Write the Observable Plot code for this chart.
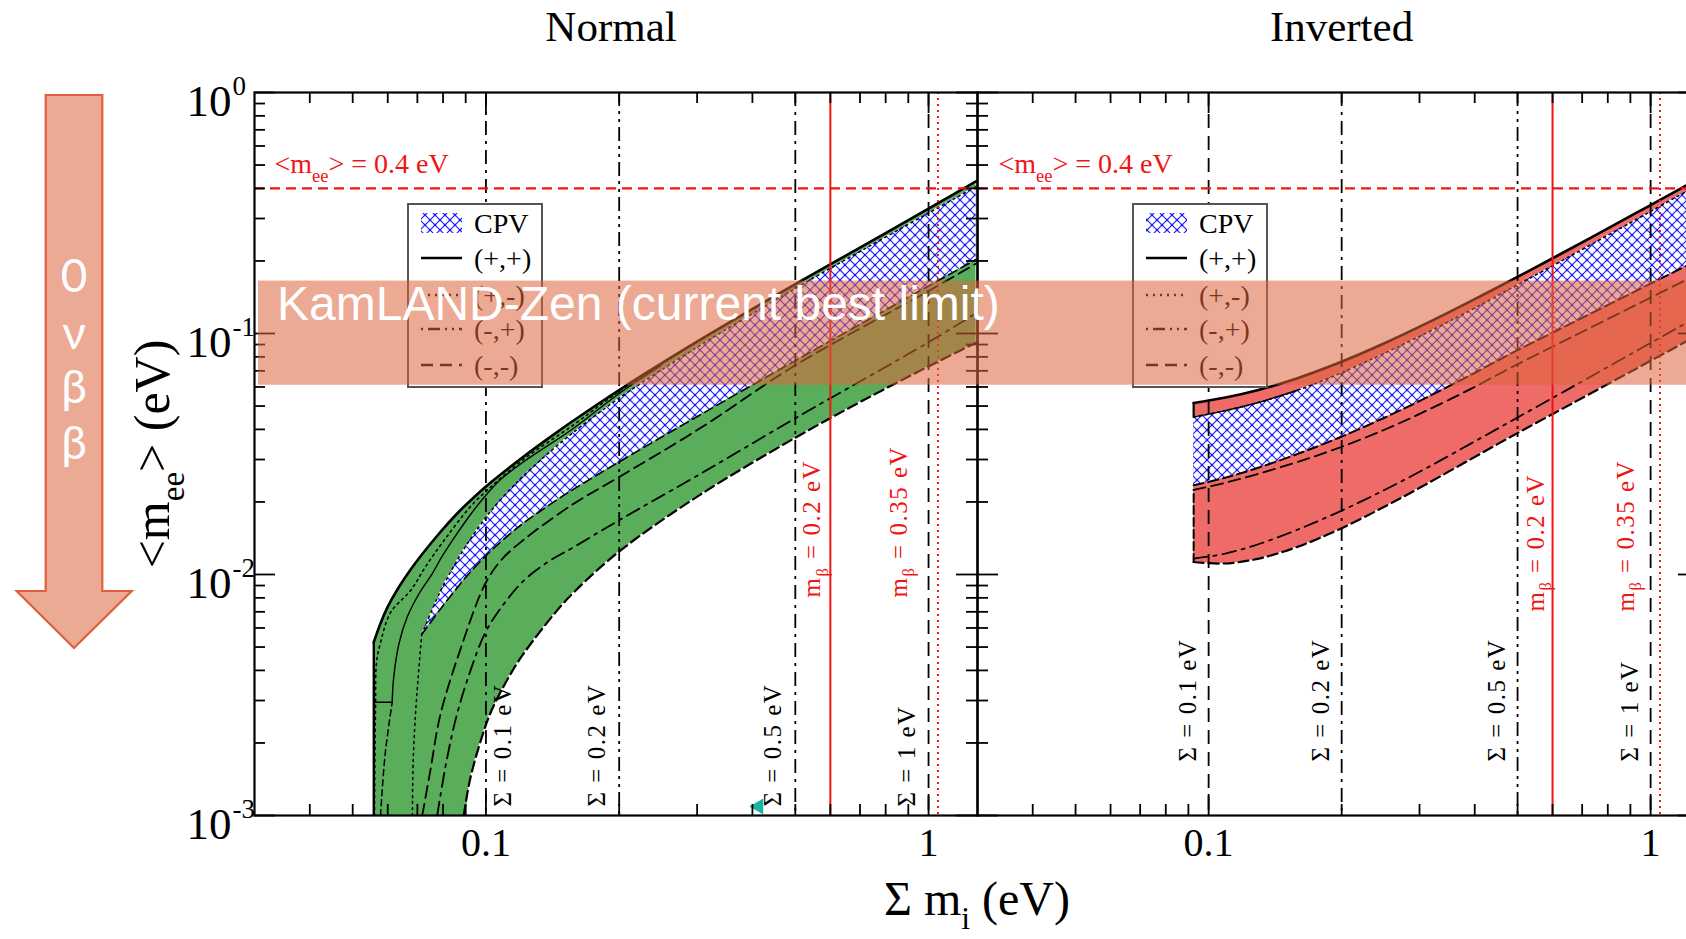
<!DOCTYPE html>
<html lang="en">
<head>
<meta charset="utf-8">
<title>Effective Majorana mass versus sum of neutrino masses</title>
<script src="https://cdn.jsdelivr.net/npm/d3@7"></script>
<script src="https://cdn.jsdelivr.net/npm/@observablehq/plot@0.6"></script>
<style>
  html, body { margin: 0; padding: 0; background: #fff; overflow: hidden; }
  #stage { position: relative; width: 1686px; height: 939px; overflow: hidden; background: #fff; }
  #stage > svg { position: absolute; top: 0; }
</style>
</head>
<body>
<svg width="0" height="0" style="position:absolute">
  <defs>
    <pattern id="cpvHatch" patternUnits="userSpaceOnUse" width="10" height="10">
      <rect width="10" height="10" fill="#fff"/>
      <path d="M0,0L10,10M10,0L0,10" stroke="#1a1aff" stroke-width="1.1" fill="none"/>
      <circle cx="5" cy="5" r="1.3" fill="#1a1aff"/>
      <circle cx="0" cy="0" r="1.3" fill="#1a1aff"/>
      <circle cx="10" cy="0" r="1.3" fill="#1a1aff"/>
      <circle cx="0" cy="10" r="1.3" fill="#1a1aff"/>
      <circle cx="10" cy="10" r="1.3" fill="#1a1aff"/>
    </pattern>
  </defs>
</svg>
<div id="stage"></div>
<script>
// ---------- fonts & colours ----------
const SERIF = "'Liberation Serif', 'Times New Roman', Times, serif";
const SANS = "'Liberation Sans', Arial, Helvetica, sans-serif";
const HUMANIST = "Lato, 'Open Sans', sans-serif";
const GREEN = "#5aad5a";
const RED_FILL = "#ef6b68";
const RED = "#f01414";

// ---------- axes ----------
const xDomain = [0.03, 1.29];   // Σ m_i (eV)
const yDomain = [0.001, 1];     // <m_ee> (eV)
const xMajor = [0.1, 1];
const xMinor = [0.04, 0.05, 0.06, 0.07, 0.08, 0.09, 0.2, 0.3, 0.4, 0.5, 0.6, 0.7, 0.8, 0.9];
const yMajor = [0.001, 0.01, 0.1, 1];
const yMinor = [0.002, 0.003, 0.004, 0.005, 0.006, 0.007, 0.008, 0.009,
                0.02, 0.03, 0.04, 0.05, 0.06, 0.07, 0.08, 0.09,
                0.2, 0.3, 0.4, 0.5, 0.6, 0.7, 0.8, 0.9];
const panels = ["Normal", "Inverted"];

// ---------- reference values ----------
const sigmaMarks = [0.1, 0.2, 0.5, 1];     // Σ m_i guide lines (eV)
const mBeta = [0.2, 0.35];                 // β-decay mass reach (eV)
const mBetaSigma = [0.6, 1.05];            // matching Σ m_i (eV)
const meeLimit = 0.4;                      // <m_ee> (eV)
const kamlandZen = [0.061, 0.165];         // current best 0νββ limit band (eV)

// ---------- normal ordering: boundaries on a shared Σ grid ----------
const sigmaNO     = [0.0558, 0.0578, 0.0599, 0.0630, 0.0676, 0.0716, 0.0789, 0.0862, 0.0891, 0.0923, 0.0997,
                     0.1040, 0.1138, 0.1215, 0.1427, 0.1575, 0.2, 0.3045, 0.5, 0.7, 1.0, 1.28];
const upperNO     = [0.00524, 0.00628, 0.0073, 0.00862, 0.01048, 0.01207, 0.01501, 0.01795, 0.01908, 0.02028, 0.02306,
                     0.02462, 0.02809, 0.03082, 0.03824, 0.04343, 0.05828, 0.09406, 0.1602, 0.2272, 0.330, 0.428];
const lowerNO     = [null, null, null, null, null, null, null, null, 0.001, 0.00144, 0.00234,
                     0.00284, 0.00388, 0.00468, 0.00687, 0.00839, 0.01246, 0.0214, 0.03694, 0.05193, 0.07303, 0.09158];
const cpvTopNO    = [null, null, null, null, null, 0.00564, 0.00851, 0.0115, 0.01272, 0.01405, 0.01715,
                     0.01889, 0.02274, 0.02565, 0.03346, 0.03883, 0.05395, 0.0891, 0.1538, 0.2189, 0.316, 0.407];
const cpvBottomNO = [null, null, null, null, null, 0.00564, 0.00718, 0.00884, 0.00952, 0.01025, 0.01191,
                     0.01282, 0.01483, 0.01633, 0.02007, 0.02254, 0.02932, 0.04591, 0.07713, 0.1091, 0.1574, 0.2028];

// inner curves of the normal ordering, [Σ, <m_ee>]
const solidInnerNO = [[0.0614, 0.00295], [0.0619, 0.00375], [0.0636, 0.00516], [0.0664, 0.00666], [0.0706, 0.00832],
                      [0.0756, 0.01007], [0.0796, 0.01188], [0.0861, 0.0148], [0.0923, 0.01774], [0.0992, 0.02097],
                      [0.1079, 0.02478], [0.1215, 0.02929], [0.1575, 0.04034], [0.2, 0.05637], [0.248, 0.07329]];
const hookNO = [[0.0558, 0.00295], [0.0614, 0.00295]];
const dottedNO = [[0.0560, 0.001], [0.0563, 0.0028], [0.0566, 0.00432], [0.0578, 0.00522], [0.0609, 0.00696],
                  [0.0676, 0.00859], [0.0731, 0.0108], [0.0810, 0.0141], [0.0923, 0.01915], [0.0997, 0.0220],
                  [0.1215, 0.0300], [0.1575, 0.0417], [0.199, 0.0572], [0.2746, 0.0834]];
const cpvTipNO = [[0.0682, 0.001], [0.0685, 0.00169], [0.0694, 0.00272], [0.0705, 0.0040], [0.0716, 0.00564]];
const dashedInnerNO = [[0.0718, 0.001], [0.0749, 0.00154], [0.0789, 0.00262], [0.0876, 0.0049], [0.0992, 0.0090],
                       [0.1079, 0.0114], [0.1215, 0.0139], [0.1575, 0.0196], [0.2, 0.0254], [0.3045, 0.0404],
                       [0.5, 0.0738], [1.0, 0.150], [1.28, 0.195]];
const dashDotNO = [[0.0776, 0.001], [0.0815, 0.00169], [0.0861, 0.00265], [0.0923, 0.0040], [0.0994, 0.00568],
                   [0.1079, 0.00723], [0.1219, 0.00946], [0.1385, 0.01132], [0.158, 0.0130], [0.2, 0.0168],
                   [0.3045, 0.0261], [0.5, 0.0445], [1.0, 0.092], [1.28, 0.1214]];
const cornerDashNO = [[0.0578, 0.001], [0.0592, 0.0018], [0.0614, 0.00295]];

// ---------- inverted ordering: boundaries on a shared Σ grid ----------
const sigmaIO     = [0.0925, 0.1085, 0.1290, 0.1588, 0.1972, 0.2492, 0.3068, 0.3910, 0.4898, 0.6136, 0.7295, 0.9298, 1.1448, 1.28];
const upperIO     = [0.0515, 0.0541, 0.05815, 0.06524, 0.0756, 0.0909, 0.1088, 0.1359, 0.1684, 0.2097, 0.2487, 0.3171, 0.391, 0.4376];
const stripIO     = [0.04502, 0.04777, 0.05162, 0.05815, 0.06805, 0.0826, 0.0993, 0.1247, 0.1561, 0.1952, 0.2327, 0.2979, 0.3692, 0.4133];
const cpvBottomIO = [0.02344, 0.02514, 0.02766, 0.03162, 0.03692, 0.04461, 0.05353, 0.06719, 0.08365, 0.1029, 0.1206, 0.1507, 0.1822, 0.2018];
const dashedIO    = [0.02244, 0.02397, 0.02612, 0.02929, 0.03355, 0.03978, 0.04727, 0.05878, 0.07314, 0.09001, 0.1055, 0.1318, 0.1594, 0.1766];
const dashDotIO   = [0.01163, 0.01219, 0.01332, 0.01534, 0.0182, 0.02236, 0.02727, 0.03483, 0.04388, 0.05529, 0.06605, 0.08477, 0.105, 0.1178];
const lowerIO     = [0.01127, 0.01111, 0.01161, 0.01302, 0.01538, 0.01906, 0.0234, 0.03003, 0.03784, 0.04736, 0.05626, 0.07163, 0.08815, 0.0985];

// ---------- layout ----------
const H = 939, TOP = 92, BOTTOM = 124, LEFT = 254;
const FRAME_H = H - TOP - BOTTOM;
const W_NO = 977, W_IO = 722;

const DASH = "14,8";
const DASH_DOT = "14,6,3,6";
const DASH_DOT_DOT = "14,5,3,5,3,5";
const DOT = "2,4";

const rowsNO = sigmaNO.map((sigma, i) => ({sigma, upper: upperNO[i], lower: lowerNO[i], cpvTop: cpvTopNO[i], cpvBottom: cpvBottomNO[i]}));
const rowsIO = sigmaIO.map((sigma, i) => ({sigma, upper: upperIO[i], strip: stripIO[i], cpvBottom: cpvBottomIO[i],
                                          dashed: dashedIO[i], dashDot: dashDotIO[i], lower: lowerIO[i]}));

const curve = "catmull-rom";
const px = d => d[0], py = d => d[1];
const path = (data, o) => Plot.line(data, {x: px, y: py, curve, clip: true, stroke: "black", ...o});
const band = (data, key, o) => Plot.line(data, {x: "sigma", y: key, curve, clip: true, stroke: "black", ...o});

function frameAndTicks(frameW) {
  const s = {stroke: "black", strokeWidth: 1.8};
  const f = d => d;
  return [
    Plot.tickX(xMinor, {x: f, insetTop: FRAME_H - 11, ...s}),
    Plot.tickX(xMinor, {x: f, insetBottom: FRAME_H - 11, ...s}),
    Plot.tickX(xMajor, {x: f, insetTop: FRAME_H - 21, ...s}),
    Plot.tickX(xMajor, {x: f, insetBottom: FRAME_H - 21, ...s}),
    Plot.tickY(yMinor, {y: f, insetRight: frameW - 11, ...s}),
    Plot.tickY(yMinor, {y: f, insetLeft: frameW - 11, ...s}),
    Plot.tickY(yMajor, {y: f, insetRight: frameW - 21, ...s}),
    Plot.tickY(yMajor, {y: f, insetLeft: frameW - 21, ...s}),
    Plot.frame({stroke: "black", strokeWidth: 2.2}),
    Plot.text(xMajor, {x: f, text: d => String(d), frameAnchor: "bottom", lineAnchor: "bottom", dy: 40,
                       fontSize: 40, fontFamily: SERIF, fill: "black"})
  ];
}

function guides({sigmaStyles, firstLabelRight, sigmaLabelDx, sigmaLabelDy, betaDx, betaDy, limitDx}) {
  const marks = [];
  sigmaMarks.forEach((s, i) => {
    marks.push(Plot.ruleX([s], {x: d => d, stroke: "black", strokeWidth: 1.8, strokeDasharray: sigmaStyles[i]}));
    marks.push(Plot.text([s], {x: d => d, text: d => `Σ = ${d} eV`, frameAnchor: "bottom", rotate: -90,
      textAnchor: "start", lineAnchor: "middle", dx: (firstLabelRight && i === 0) ? 17 : sigmaLabelDx, dy: sigmaLabelDy,
      fontSize: 25, fontFamily: SERIF, fill: "black"}));
  });
  mBetaSigma.forEach((s, i) => {
    marks.push(Plot.ruleX([s], {x: d => d, stroke: RED, strokeWidth: 2, strokeDasharray: i === 1 ? "2,4" : null}));
    marks.push(Plot.text([mBeta[i]], {x: () => s, text: d => `m_{β} = ${d} eV`, frameAnchor: "bottom", rotate: -90,
      textAnchor: "start", lineAnchor: "middle", dx: betaDx[i], dy: betaDy, fontSize: 25, fontFamily: SERIF, fill: RED}));
  });
  marks.push(Plot.ruleY([meeLimit], {y: d => d, stroke: RED, strokeWidth: 2.4, strokeDasharray: "10,6"}));
  marks.push(Plot.text([meeLimit], {y: d => d, text: d => `<m_{ee}> = ${d} eV`, frameAnchor: "left", textAnchor: "start",
    lineAnchor: "bottom", dx: limitDx, dy: -15, fontSize: 28, fontFamily: SERIF, fill: RED}));
  return marks;
}

// ---------- normal ordering panel ----------
const edgeNO = [[sigmaNO[0], yDomain[0]], [sigmaNO[0], upperNO[0]]];
const plotNO = Plot.plot({
  width: W_NO, height: H,
  marginLeft: LEFT, marginRight: 0, marginTop: TOP, marginBottom: BOTTOM,
  x: {type: "log", domain: xDomain, axis: null},
  y: {type: "log", domain: yDomain, axis: null},
  style: {background: "none", overflow: "visible", maxWidth: "none"},
  marks: [
    Plot.areaY(rowsNO, {x: "sigma", y1: d => d.lower ?? yDomain[0], y2: "upper", fill: GREEN, curve, clip: true}),
    Plot.areaY(rowsNO, {x: "sigma", y1: "cpvBottom", y2: "cpvTop", fill: "url(#cpvHatch)", curve, clip: true}),
    band(rowsNO, "lower", {strokeWidth: 2.2, strokeDasharray: "10,5"}),
    band(rowsNO, "cpvBottom", {strokeWidth: 1.6, strokeDasharray: "9,5"}),
    band(rowsNO, "cpvTop", {strokeWidth: 1.5, strokeDasharray: DOT}),
    path(cpvTipNO, {strokeWidth: 1.5, strokeDasharray: DOT}),
    path(dashedInnerNO, {strokeWidth: 1.8, strokeDasharray: "12,6"}),
    path(dashDotNO, {strokeWidth: 1.8, strokeDasharray: DASH_DOT}),
    path(cornerDashNO, {strokeWidth: 1.5, strokeDasharray: "6,4"}),
    path(dottedNO, {strokeWidth: 1.6, strokeDasharray: DOT}),
    path(solidInnerNO, {strokeWidth: 1.4}),
    path(hookNO, {strokeWidth: 1.6, curve: "linear"}),
    band(rowsNO, "upper", {strokeWidth: 2.6}),
    path(edgeNO, {strokeWidth: 2.4, curve: "linear"}),
    ...guides({sigmaStyles: [DASH_DOT, DASH_DOT_DOT, DASH_DOT, DASH], firstLabelRight: true,
               sigmaLabelDx: -22, sigmaLabelDy: -9, betaDx: [-18, -39], betaDy: -218, limitDx: 20}),
    Plot.dot([[0.413, 0.00109]], {x: px, y: py, symbol: "triangle", r: 6, fill: "#19b2a5", rotate: -90}),
    ...frameAndTicks(W_NO - LEFT),
    Plot.text(yMajor, {y: d => d, text: () => "10", frameAnchor: "left", textAnchor: "end", lineAnchor: "bottom",
                       dx: -23, dy: 23, fontSize: 45, fontFamily: SERIF, fill: "black"}),
    Plot.text(yMajor, {y: d => d, text: d => String(Math.round(Math.log10(d))), frameAnchor: "left", textAnchor: "start",
                       lineAnchor: "bottom", dx: -22, dy: 2, fontSize: 27, fontFamily: SERIF, fill: "black"}),
    Plot.text([panels[0]], {text: d => d, frameAnchor: "top", lineAnchor: "bottom", dx: -5, dy: -52, fontSize: 43, fontFamily: SERIF, fill: "black"}),
    Plot.text(["<m_{ee}> (eV)"], {text: d => d, frameAnchor: "left", rotate: -90, textAnchor: "middle", lineAnchor: "middle",
                                  dx: -102, fontSize: 50, fontFamily: SERIF, fill: "black"})
  ]
});

// ---------- inverted ordering panel ----------
const stripEdgeIO = [[sigmaIO[0], stripIO[0]], [sigmaIO[0], upperIO[0]]];
const lowerEdgeIO = [[sigmaIO[0], lowerIO[0]], [sigmaIO[0], dashedIO[0]]];
const plotIO = Plot.plot({
  width: W_IO, height: H,
  marginLeft: 0, marginRight: 0, marginTop: TOP, marginBottom: BOTTOM,
  x: {type: "log", domain: xDomain, axis: null},
  y: {type: "log", domain: yDomain, axis: null},
  style: {background: "none", overflow: "visible", maxWidth: "none"},
  marks: [
    Plot.areaY(rowsIO, {x: "sigma", y1: "lower", y2: "upper", fill: RED_FILL, curve, clip: true}),
    Plot.areaY(rowsIO, {x: "sigma", y1: "cpvBottom", y2: "strip", fill: "url(#cpvHatch)", curve, clip: true}),
    band(rowsIO, "lower", {strokeWidth: 2.2, strokeDasharray: "10,5"}),
    band(rowsIO, "dashDot", {strokeWidth: 1.8, strokeDasharray: DASH_DOT}),
    band(rowsIO, "dashed", {strokeWidth: 1.8, strokeDasharray: "12,6"}),
    band(rowsIO, "cpvBottom", {strokeWidth: 2, strokeDasharray: "10,5"}),
    band(rowsIO, "strip", {strokeWidth: 1.6, strokeDasharray: DOT}),
    path(rowsIO.slice(0, 4).map(d => [d.sigma, d.strip]), {strokeWidth: 1.4}),
    band(rowsIO, "upper", {strokeWidth: 2.6}),
    path(stripEdgeIO, {strokeWidth: 2.2, curve: "linear"}),
    path(lowerEdgeIO, {strokeWidth: 2, curve: "linear", strokeDasharray: "8,4"}),
    ...guides({sigmaStyles: [DASH, DASH_DOT, DASH_DOT_DOT, DASH], firstLabelRight: false,
               sigmaLabelDx: -21, sigmaLabelDy: -54, betaDx: [-17, -34], betaDy: -204, limitDx: 21}),
    ...frameAndTicks(W_IO),
    Plot.text([panels[1]], {text: d => d, frameAnchor: "top", lineAnchor: "bottom", dx: 3, dy: -52, fontSize: 43, fontFamily: SERIF, fill: "black"})
  ]
});

const stage = document.getElementById("stage");
plotNO.style.left = "0px";
plotIO.style.left = W_NO + "px";
stage.appendChild(plotNO);
stage.appendChild(plotIO);

// subscripts written as _{...} and letter spacing for the guide labels
function richText(svg) {
  d3.select(svg).selectAll("text").each(function () {
    const s = this.textContent;
    if (s.startsWith("Σ = ") || s.startsWith("m_{")) this.setAttribute("letter-spacing", "1.5");
    if (!s.includes("_{")) return;
    const size = parseFloat(getComputedStyle(this).fontSize);
    const shift = size * 0.3;
    const t = d3.select(this).text(null);
    let lowered = false;
    s.split(/(_\{[^}]*\})/).filter(Boolean).forEach(part => {
      if (part.startsWith("_{")) {
        t.append("tspan").attr("dy", shift).attr("font-size", size * 0.66).text(part.slice(2, -1));
        lowered = true;
      } else {
        const sp = t.append("tspan").text(part);
        if (lowered) { sp.attr("dy", -shift); lowered = false; }
      }
    });
  });
}

// legends
const legendEntries = [
  {label: "CPV", hatch: true},
  {label: "(+,+)", dash: null},
  {label: "(+,-)", dash: "2,5"},
  {label: "(-,+)", dash: "2,5,12,5,2,5"},
  {label: "(-,-)", dash: "12,7"}
];
const legendRows = [19, 54, 91, 125, 161];
function drawLegend(svg, left, top) {
  const g = d3.select(svg).append("g").attr("text-anchor", "start");
  g.append("rect").attr("x", left).attr("y", top).attr("width", 134).attr("height", 183)
    .attr("fill", "#fff").attr("stroke", "#555").attr("stroke-width", 2);
  legendEntries.forEach((e, i) => {
    const y = top + legendRows[i];
    if (e.hatch) {
      g.append("rect").attr("x", left + 13).attr("y", y - 10).attr("width", 41).attr("height", 20).attr("fill", "url(#cpvHatch)");
    } else {
      g.append("line").attr("x1", left + 13).attr("x2", left + 54).attr("y1", y).attr("y2", y)
        .attr("stroke", "#000").attr("stroke-width", 2.6).attr("stroke-dasharray", e.dash);
    }
    g.append("text").attr("x", left + 66).attr("y", y).attr("dy", "0.34em").attr("text-anchor", "start")
      .attr("font-family", SERIF).attr("font-size", 28).attr("fill", "#000").text(e.label);
  });
}
drawLegend(plotNO, 408, 204);
drawLegend(plotIO, 156, 204);

// overlay: shared x-axis title, KamLAND-Zen band and 0νββ arrow
const yScale = plotNO.scale("y");
const bandTop = yScale.apply(kamlandZen[1]);
const bandBottom = yScale.apply(kamlandZen[0]);
const overlay = d3.select(stage).append("svg").attr("width", 1686).attr("height", H).style("left", "0px");
overlay.append("text").attr("x", W_NO).attr("y", H - BOTTOM + 100).attr("text-anchor", "middle")
  .attr("font-family", SERIF).attr("font-size", 48).attr("fill", "#000").text("Σ m_{i} (eV)");
richText(plotNO);
richText(plotIO);
richText(overlay.node());
overlay.append("rect").attr("x", LEFT + 4).attr("y", bandTop).attr("width", 1686).attr("height", bandBottom - bandTop)
  .attr("fill", "rgb(220,100,60)").attr("fill-opacity", 0.55);
overlay.append("text").attr("x", 277).attr("y", bandTop + 39).attr("font-family", SANS).attr("font-size", 48)
  .attr("fill", "#fff").text("KamLAND-Zen (current best limit)");
overlay.append("path")
  .attr("d", "M45.7,95 L102.3,95 L102.3,591 L131.7,591 L74,648 L16.7,591 L45.7,591 Z")
  .attr("fill", "#ebaa94").attr("stroke", "#e0603a").attr("stroke-width", 2.2);
const arrowText = overlay.append("text").attr("text-anchor", "middle").attr("font-family", HUMANIST)
  .attr("font-size", 46).attr("fill", "#fff");
["0", "ν", "β", "β"].forEach((c, i) => {
  arrowText.append("tspan").attr("x", 74).attr("y", [276, 333, 387, 443][i]).attr("dy", "0.35em").text(c);
});
</script>
</body>
</html>
